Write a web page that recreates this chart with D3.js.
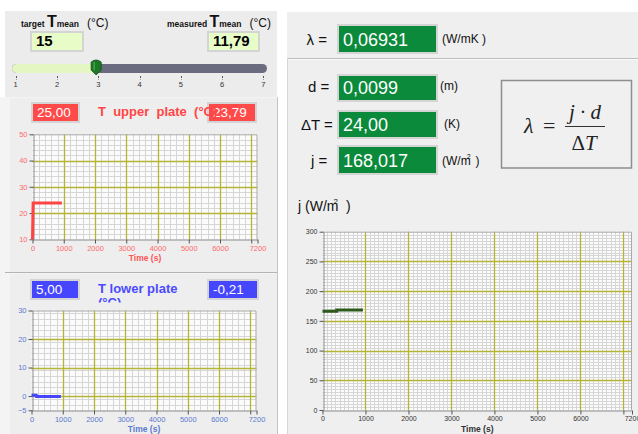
<!DOCTYPE html>
<html>
<head>
<meta charset="utf-8">
<script src="https://cdn.jsdelivr.net/npm/d3@7"></script>
<style>
body { margin: 0; background: #fff; }
svg { display: block; font-family: "Liberation Sans", Arial, sans-serif; }
</style>
</head>
<body>
<svg id="vi" width="638" height="434"></svg>
<script>
// front panel readings
var sliderTicks = [1, 2, 3, 4, 5, 6, 7];
var sliderValue = 2.95;
var targetTmean = "15";
var measuredTmean = "11,79";
var upperSet = "25,00", upperMeasured = "23,79";
var lowerSet = "5,00", lowerMeasured = "-0,21";
var lambdaValue = "0,06931";
var thickness = "0,0099";
var deltaT = "24,00";
var heatFlux = "168,017";

// chart axes
var timeTicks = [0, 1000, 2000, 3000, 4000, 5000, 6000, 7000, 7200];
var timeLabels = ["0", "1000", "2000", "3000", "4000", "5000", "6000", "", "7200"];
var upperTicks = [10, 20, 30, 40, 50];
var lowerTicks = [-5, 0, 10, 20, 30];
var fluxTicks = [0, 50, 100, 150, 200, 250, 300];

// chart series
var upperTime = [0, 20, 940];
var upperTemp = [10, 23.8, 23.8];
var lowerTime = [0, 150, 160, 940];
var lowerTemp = [0.3, 0.3, -0.2, -0.2];
var fluxTime = [0, 330, 330, 940];
var fluxValue = [166, 166, 168.4, 168.4];

var svg = d3.select("#vi");

var Ui = {
    // sunken numeric indicator
    valueBox: function(x, y, w, h, fill, text, color, size, bold) {
        svg.append("rect")
            .attr("x", x - 1).attr("y", y - 1)
            .attr("width", w + 2).attr("height", h + 2)
            .attr("fill", "none").attr("stroke", "#d4d4d4").attr("stroke-width", 2);
        svg.append("rect")
            .attr("x", x).attr("y", y).attr("width", w).attr("height", h)
            .attr("fill", fill);
        svg.append("text")
            .attr("x", x + 4).attr("y", y + h - (h > 20 ? 6 : 4))
            .attr("fill", color)
            .attr("font-size", size)
            .attr("font-weight", bold ? "bold" : "normal")
            .text(text);
    },

    label: function(x, y, text, size, opts) {
        opts = opts || {};
        return svg.append("text")
            .attr("x", x).attr("y", y)
            .attr("font-size", size)
            .attr("font-weight", opts.bold ? "bold" : "normal")
            .attr("fill", opts.color || "#111")
            .attr("text-anchor", opts.anchor || "start")
            .text(text);
    },

    drawBackground: function() {
        svg.append("rect").attr("x", 0).attr("y", 97).attr("width", 277).attr("height", 337).attr("fill", "#f4f4f4");
        svg.append("rect").attr("x", 5).attr("y", 11).attr("width", 272).attr("height", 86).attr("fill", "#ececec");
        svg.append("rect").attr("x", 10).attr("y", 98).attr("width", 267).attr("height", 174).attr("fill", "#eeeeee");
        svg.append("rect").attr("x", 10).attr("y", 274).attr("width", 267).attr("height", 160).attr("fill", "#eeeeee");
        svg.append("line").attr("x1", 5).attr("x2", 277).attr("y1", 272.5).attr("y2", 272.5).attr("stroke", "#b4b4b4");
        svg.append("line").attr("x1", 277.5).attr("x2", 277.5).attr("y1", 97).attr("y2", 434).attr("stroke", "#c4c4c4");
        // right panel
        svg.append("rect").attr("x", 287).attr("y", 12).attr("width", 351).attr("height", 422).attr("fill", "#efefef");
        svg.append("line").attr("x1", 287).attr("x2", 638).attr("y1", 58.5).attr("y2", 58.5).attr("stroke", "#bdbdbd");
        svg.append("line").attr("x1", 287).attr("x2", 638).attr("y1", 59.5).attr("y2", 59.5).attr("stroke", "#fafafa");
        svg.append("line").attr("x1", 287.5).attr("x2", 287.5).attr("y1", 58).attr("y2", 434).attr("stroke", "#d6d6d6");
    },

    // target / measured mean temperature and slider
    drawTopPanel: function() {
        var heads = [{x: 21, word: "target"}, {x: 167, word: "measured"}];
        heads.forEach(function(h) {
            var t = svg.append("text").attr("x", h.x).attr("y", 27).attr("fill", "#111");
            t.append("tspan").attr("font-size", 8.5).attr("font-weight", "bold").text(h.word + " ");
            t.append("tspan").attr("font-size", 16).attr("font-weight", "bold").text("T");
            t.append("tspan").attr("font-size", 8.5).attr("font-weight", "bold").text("mean");
            t.append("tspan").attr("font-size", 12).attr("dx", 8).text("(°C)");
        });
        Ui.valueBox(32, 33, 50, 17, "#e8fcc8", targetTmean, "#000", 15, true);
        Ui.valueBox(209, 33, 49, 17, "#e8fcc8", measuredTmean, "#000", 15, true);

        var sx = d3.scaleLinear().domain([1, 7]).range([15.7, 263.3]);
        svg.append("rect").attr("x", 12).attr("y", 64).attr("width", 255).attr("height", 9)
            .attr("rx", 4.5).attr("fill", "#6b6b80");
        svg.append("rect").attr("x", 12).attr("y", 64).attr("width", sx(sliderValue) - 12).attr("height", 9)
            .attr("rx", 4.5).attr("fill", "#e4f6c2");
        svg.append("rect").attr("x", sx(sliderValue) - 6).attr("y", 64).attr("width", 6).attr("height", 9)
            .attr("fill", "#e4f6c2");
        var tx = sx(sliderValue);
        svg.append("path")
            .attr("d", "M" + (tx - 5) + ",62 Q" + tx + ",58 " + (tx + 5) + ",62 L" + (tx + 5) + ",70 L" + tx + ",75 L" + (tx - 5) + ",70 Z")
            .attr("fill", "#1c7a26").attr("stroke", "#0e4a14").attr("stroke-width", 0.8);
        svg.append("line").attr("x1", tx - 2).attr("x2", tx - 2).attr("y1", 62).attr("y2", 70)
            .attr("stroke", "#4fa85a").attr("stroke-width", 1.2);

        var ticks = svg.append("g");
        ticks.selectAll("line").data(sliderTicks).join("line")
            .attr("x1", function(d) { return Math.round(sx(d)) + 0.5; })
            .attr("x2", function(d) { return Math.round(sx(d)) + 0.5; })
            .attr("y1", 76).attr("y2", 79.5)
            .attr("stroke", "#555").attr("stroke-dasharray", "2,1");
        ticks.selectAll("text").data(sliderTicks).join("text")
            .attr("x", function(d) { return sx(d); })
            .attr("y", 86.5)
            .attr("text-anchor", "middle")
            .attr("font-size", 7.5)
            .attr("fill", "#333")
            .text(function(d) { return d; });
    },

    // LabVIEW style waveform chart
    drawChart: function(c) {
        var g = svg.append("g");
        var x = d3.scaleLinear().domain([0, 7200]).range([c.left, c.right]);
        var y = d3.scaleLinear().domain(c.yDomain).range([c.bottom, c.top]);
        g.append("rect")
            .attr("x", c.left).attr("y", c.top)
            .attr("width", c.right - c.left).attr("height", c.bottom - c.top)
            .attr("fill", "#fbfbfb");

        var xMinor = d3.range(0, 7200, c.xMinor).filter(function(v) { return v > 0 && v % 1000 != 0; });
        var yMinor = d3.range(c.yDomain[0], c.yDomain[1], c.yMinor).filter(function(v) {
            return v > c.yDomain[0] && c.yTicks.indexOf(v) < 0;
        });
        g.append("g").selectAll("line").data(xMinor).join("line")
            .attr("x1", function(d) { return Math.round(x(d)) + 0.5; })
            .attr("x2", function(d) { return Math.round(x(d)) + 0.5; })
            .attr("y1", c.top).attr("y2", c.bottom)
            .attr("stroke", "#d6d6d6");
        g.append("g").selectAll("line").data(yMinor).join("line")
            .attr("x1", c.left).attr("x2", c.right)
            .attr("y1", function(d) { return Math.round(y(d)) + 0.5; })
            .attr("y2", function(d) { return Math.round(y(d)) + 0.5; })
            .attr("stroke", "#d6d6d6");

        // major grid
        var xMajor = timeTicks.filter(function(v) { return v > 0 && v < 7200; });
        var yMajor = c.yTicks.filter(function(v) { return v > c.yDomain[0] && v < c.yDomain[1]; });
        g.append("g").selectAll("line").data(xMajor).join("line")
            .attr("x1", function(d) { return Math.round(x(d)) + 0.5; })
            .attr("x2", function(d) { return Math.round(x(d)) + 0.5; })
            .attr("y1", c.top).attr("y2", c.bottom)
            .attr("stroke", "#b5b535").attr("stroke-width", 1.3);
        g.append("g").selectAll("line").data(yMajor).join("line")
            .attr("x1", c.left).attr("x2", c.right)
            .attr("y1", function(d) { return Math.round(y(d)) + 0.5; })
            .attr("y2", function(d) { return Math.round(y(d)) + 0.5; })
            .attr("stroke", "#b5b535").attr("stroke-width", 1.3);

        g.append("path")
            .attr("d", "M" + c.left + "," + (c.top + 0.5) + "H" + (c.right - 0.5) + "V" + c.bottom)
            .attr("fill", "none").attr("stroke", "#a8a8a8");

        var yAxis = g.append("g")
            .attr("transform", "translate(" + (Math.round(c.left) + 0.5) + ",0)")
            .call(d3.axisLeft(y).tickValues(c.yTicks).tickSize(4).tickPadding(2).tickSizeOuter(0));
        var xAxis = g.append("g")
            .attr("transform", "translate(0," + (Math.round(c.bottom) + 0.5) + ")")
            .call(d3.axisBottom(x).tickValues(timeTicks).tickSize(4).tickPadding(2).tickSizeOuter(0)
                .tickFormat(function(d, i) { return timeLabels[i]; }));
        [yAxis, xAxis].forEach(function(a) {
            a.attr("font-family", null).attr("font-size", null);
            a.select(".domain").attr("stroke", "#8c8c8c");
            a.selectAll(".tick line").attr("stroke", "#555");
            a.selectAll(".tick text").attr("fill", c.tickColor).attr("font-size", c.tickSize);
        });

        var line = d3.line()
            .x(function(i) { return x(c.time[i]); })
            .y(function(i) { return y(c.values[i]); });
        g.append("path")
            .attr("d", line(d3.range(c.time.length)))
            .attr("fill", "none")
            .attr("stroke", c.lineColor)
            .attr("stroke-width", 3);

        Ui.label((c.left + c.right) / 2, c.bottom + 22, "Time (s)", 8.5,
            {bold: true, color: c.titleColor, anchor: "middle"});
    },

    drawLeftCharts: function() {
        Ui.valueBox(33, 104, 45, 17, "#ff4a4a", upperSet, "#fff", 13.5, false);
        Ui.valueBox(209, 104, 46, 17, "#ff4a4a", upperMeasured, "#fff", 13.5, false);
        svg.append("text")
            .attr("x", 98).attr("y", 115.5)
            .attr("xml:space", "preserve")
            .attr("font-size", 13).attr("font-weight", "bold")
            .attr("fill", "#ff4545")
            .text("T  upper  plate  (°C)");
        Ui.drawChart({
            left: 32.5, right: 257.5, top: 134.3, bottom: 239.3,
            yDomain: [10, 50], yTicks: upperTicks, xMinor: 200, yMinor: 2,
            tickColor: "#ff6a6a", tickSize: 7.5, titleColor: "#ff5555",
            lineColor: "#ff4444", time: upperTime, values: upperTemp
        });

        Ui.valueBox(32, 281, 46, 17, "#4646ff", lowerSet, "#fff", 13.5, false);
        Ui.valueBox(209, 281, 48, 17, "#4646ff", lowerMeasured, "#fff", 13.5, false);
        Ui.label(98, 292.5, "T lower plate", 13, {bold: true, color: "#4a4aff"});
        svg.append("clipPath").attr("id", "cut").append("rect")
            .attr("x", 90).attr("y", 290).attr("width", 100).attr("height", 12.5);
        Ui.label(98, 307, "(°C)", 13, {bold: true, color: "#4a4aff"}).attr("clip-path", "url(#cut)");
        Ui.drawChart({
            left: 31.5, right: 256.5, top: 310.5, bottom: 410.3,
            yDomain: [-5, 30], yTicks: lowerTicks, xMinor: 200, yMinor: 2,
            tickColor: "#5a7ad0", tickSize: 7.5, titleColor: "#5a7ad0",
            lineColor: "#4646ff", time: lowerTime, values: lowerTemp
        });
    },

    drawRightPanel: function() {
        var green = "#0b8a3b";
        Ui.label(306.5, 44.5, "λ =", 15);
        Ui.valueBox(339, 26, 97, 26, green, lambdaValue, "#fff", 18, false);
        Ui.label(442, 43, "(W/mK )", 12);

        Ui.label(308, 92, "d =", 15);
        Ui.valueBox(339, 76, 97, 24, green, thickness, "#fff", 18, false);
        Ui.label(440, 90, "(m)", 12);

        Ui.label(301, 130, "ΔT =", 15);
        Ui.valueBox(339, 112, 97, 25, green, deltaT, "#fff", 18, false);
        Ui.label(444, 128, "(K)", 12);

        Ui.label(311, 165.5, "j =", 15);
        Ui.valueBox(339, 147, 97, 26, green, heatFlux, "#fff", 18, false);
        var u = Ui.label(442, 165, "(W/m", 12);
        u.append("tspan").attr("font-size", 7).attr("dx", -4).attr("dy", -6).text("2");
        u.append("tspan").attr("dx", 5).attr("dy", 6).text(")");

        // formula
        svg.append("rect").attr("x", 501.5).attr("y", 80.5).attr("width", 130).attr("height", 87.5)
            .attr("fill", "#f0f0f0").attr("stroke", "#8e8e8e").attr("stroke-width", 1.5);
        var serif = "'Liberation Serif', 'DejaVu Serif', serif";
        svg.append("text").attr("x", 524).attr("y", 133).attr("font-family", serif)
            .attr("font-size", 22).attr("font-style", "italic").attr("fill", "#222").text("λ");
        svg.append("text").attr("x", 543).attr("y", 133).attr("font-family", serif)
            .attr("font-size", 22).attr("fill", "#222").text("=");
        svg.append("text").attr("x", 585).attr("y", 119).attr("font-family", serif)
            .attr("font-size", 21).attr("font-style", "italic").attr("fill", "#222")
            .attr("text-anchor", "middle").text("j · d");
        svg.append("line").attr("x1", 565).attr("x2", 605).attr("y1", 126.5).attr("y2", 126.5)
            .attr("stroke", "#333");
        var den = svg.append("text").attr("x", 584).attr("y", 149.5).attr("font-family", serif)
            .attr("font-size", 21).attr("fill", "#222").attr("text-anchor", "middle");
        den.append("tspan").text("Δ");
        den.append("tspan").attr("font-style", "italic").text("T");

        var jt = Ui.label(298, 211, "j (W/m", 14);
        jt.append("tspan").attr("font-size", 8).attr("dx", -5).attr("dy", -7).text("2");
        jt.append("tspan").attr("dx", 8).attr("dy", 7).text(")");

        Ui.drawChart({
            left: 322.5, right: 632, top: 231.7, bottom: 410,
            yDomain: [0, 300], yTicks: fluxTicks, xMinor: 100, yMinor: 5,
            tickColor: "#333", tickSize: 7, titleColor: "#333",
            lineColor: "#2b5a1c", time: fluxTime, values: fluxValue
        });
    }
};

Ui.drawBackground();
Ui.drawTopPanel();
Ui.drawLeftCharts();
Ui.drawRightPanel();
</script>
</body>
</html>
